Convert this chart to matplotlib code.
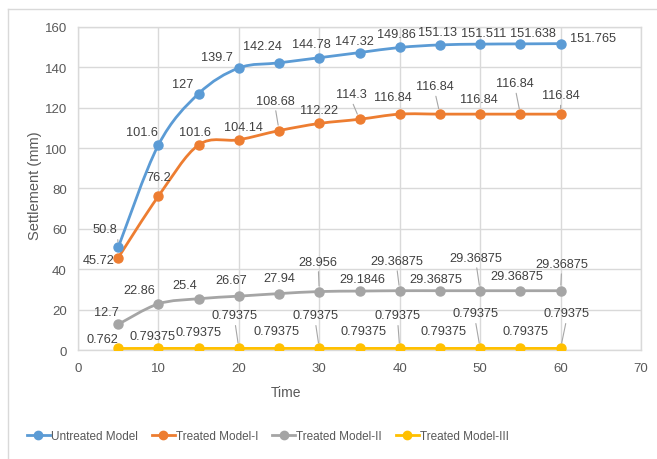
import matplotlib
matplotlib.use("Agg")
import matplotlib.pyplot as plt
from matplotlib.path import Path
from matplotlib.patches import PathPatch
from matplotlib.lines import Line2D

plt.rcParams['font.family'] = ['Liberation Sans', 'DejaVu Sans']

# ---- data ----
time = [5, 10, 15, 20, 25, 30, 35, 40, 45, 50, 55, 60]
untreated = [50.8, 101.6, 127, 139.7, 142.24, 144.78, 147.32, 149.86, 151.13, 151.511, 151.638, 151.765]
treated_1 = [45.72, 76.2, 101.6, 104.14, 108.68, 112.22, 114.3, 116.84, 116.84, 116.84, 116.84, 116.84]
treated_2 = [12.7, 22.86, 25.4, 26.67, 27.94, 28.956, 29.1846, 29.36875, 29.36875, 29.36875, 29.36875, 29.36875]
treated_3 = [0.762, 0.79375, 0.79375, 0.79375, 0.79375, 0.79375, 0.79375, 0.79375, 0.79375, 0.79375, 0.79375, 0.79375]
series_names = ["Untreated Model", "Treated Model-I", "Treated Model-II", "Treated Model-III"]
x_ticks = [0, 10, 20, 30, 40, 50, 60, 70]
y_ticks = [0, 20, 40, 60, 80, 100, 120, 140, 160]

# ---- styling / label placement (pixel offsets of label centre from point) ----
colors = ["#5B9BD5", "#ED7D31", "#A5A5A5", "#FFC000"]
off_u = [(-13, 18), (-16, 13), (-16, 10), (-22, 11), (-17, 17), (-8, 14), (-5, 12), (-3, 13), (-2, 13), (3, 11), (13, 11), (32, 6)]
off_1 = [(-20, -2), (0, 19), (-4, 13), (5, 13), (-4, 30), (0, 13), (-8, 25), (-7, 17), (-5, 28), (-1, 15), (-5, 31), (0, 19)]
off_2 = [(-12, 12), (-19, 14), (-14, 14), (-8, 16), (0, 16), (-1, 30), (3, 12), (-3, 30), (-4, 12), (-4, 33), (-3, 15), (1, 27)]
off_3 = [(-16, 9), (-6, 12), (0, 16), (-4, 33), (-3, 17), (-4, 33), (4, 17), (-2, 33), (4, 17), (-5, 35), (5, 17), (6, 35)]
lead_u = [0]
lead_1 = [4, 6, 8, 10, 11]
lead_2 = [5, 7, 9, 11]
lead_3 = [3, 5, 7, 9, 11]

W, H = 657, 460
fig = plt.figure(figsize=(W / 100, H / 100), dpi=100)
ax = fig.add_axes([78 / W, 1 - 351 / H, (641 - 78) / W, (351 - 28) / H])

ax.set_xlim(0, 70)
ax.set_ylim(0, 160)
ax.set_xticks(x_ticks)
ax.set_yticks(y_ticks)
ax.grid(True, color="#D9D9D9", lw=1)
ax.set_axisbelow(True)
for s in ax.spines.values():
    s.set_color("#D9D9D9")
    s.set_linewidth(1)
ax.tick_params(length=0, labelsize=9.5, labelcolor="#595959")
ax.tick_params(axis='y', pad=8)
ax.tick_params(axis='x', pad=9)


def smooth_path(xs, ys):
    verts = [(xs[0], ys[0])]
    codes = [Path.MOVETO]
    n = len(xs)
    for i in range(n - 1):
        p0 = i - 1 if i > 0 else i
        p3 = i + 2 if i + 2 < n else i + 1
        c1 = (xs[i] + (xs[i + 1] - xs[p0]) / 6, ys[i] + (ys[i + 1] - ys[p0]) / 6)
        c2 = (xs[i + 1] - (xs[p3] - xs[i]) / 6, ys[i + 1] - (ys[p3] - ys[i]) / 6)
        verts += [c1, c2, (xs[i + 1], ys[i + 1])]
        codes += [Path.CURVE4] * 3
    return Path(verts, codes)


all_series = [untreated, treated_1, treated_2, treated_3]
all_offs = [off_u, off_1, off_2, off_3]
all_leads = [lead_u, lead_1, lead_2, lead_3]

for ys, col in zip(all_series, colors):
    patch = PathPatch(smooth_path(time, ys), facecolor="none", edgecolor=col, lw=2.0,
                      capstyle="round", joinstyle="round", zorder=3)
    ax.add_patch(patch)
    ax.plot(time, ys, linestyle="none", marker="o", ms=6.5, color=col, zorder=4)

for ys, offs, leads in zip(all_series, all_offs, all_leads):
    for i, (xv, yv) in enumerate(zip(time, ys)):
        dx, dy = offs[i]
        label = repr(yv) if not float(yv).is_integer() else str(int(yv))
        kw = dict(xy=(xv, yv), xytext=(dx, dy), textcoords="offset pixels",
                  ha="center", va="center", fontsize=9.2, color="#404040", zorder=5)
        if i in leads:
            relx = 1.0 if dx < -10 else 0.5
            kw["arrowprops"] = dict(arrowstyle="-", color="#A6A6A6", lw=0.8,
                                    shrinkA=1, shrinkB=4, relpos=(relx, 0.0))
        ax.annotate(label, **kw)

fig.text(35 / W, 1 - 186 / H, "Settlement (mm)", rotation=90, ha="center", va="center",
         fontsize=10.5, color="#595959")
fig.text(286 / W, 1 - 393 / H, "Time", ha="center", va="center", fontsize=10, color="#595959")

handles = [Line2D([], [], color=c, lw=2.0, marker="o", ms=6) for c in colors]
fig.legend(handles, series_names, loc="center", bbox_to_anchor=(268 / W, 1 - 437 / H),
           ncol=4, frameon=False, fontsize=8.5, labelcolor="#595959",
           handlelength=1.9, handletextpad=0.12, columnspacing=1.2)

# chart-area border (visible left and top edges)
fig.add_artist(Line2D([8 / W, 8 / W], [0, 1 - 9.5 / H], color="#D9D9D9", lw=1, transform=fig.transFigure))
fig.add_artist(Line2D([8 / W, 1], [1 - 9.5 / H, 1 - 9.5 / H], color="#D9D9D9", lw=1, transform=fig.transFigure))

fig.savefig("out.png", dpi=100)
